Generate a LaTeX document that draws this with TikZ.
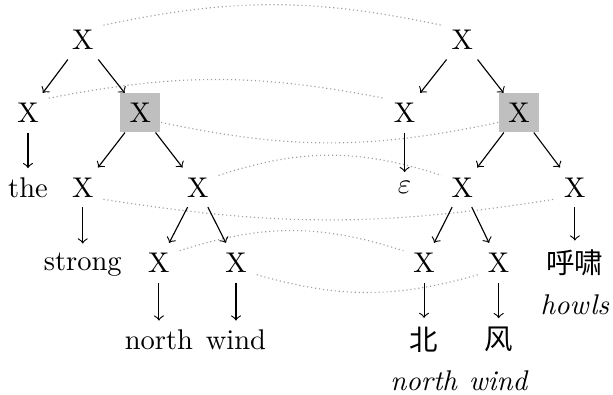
\documentclass[tikz,border=0pt]{standalone}
\usepackage{fontspec}
\newfontfamily\cjk{Noto Sans CJK SC}
\usetikzlibrary{positioning}

\begin{document}
\begin{tikzpicture}[
    sym/.style={inner sep=3.33pt},
    hl/.style={sym, fill=lightgray},
    word/.style={inner sep=3pt},
    arrow/.style={->, >=to},
    link/.style={gray!75, densely dotted, thin}
]
\useasboundingbox (0,0) rectangle (7.56,-4.87);

% English side
\node[sym] (lroot) at (1.02,-0.49) {X};
\node[sym] (la) at (0.345,-1.39) {X};
\node[hl] (lb) at (1.73,-1.39) {X};
\node[word] (lthe) at (0.345,-2.31) {the};
\node[sym] (lc) at (1.02,-2.31) {X};
\node[sym] (ld) at (2.44,-2.31) {X};
\node[word] (lstrong) at (1.02,-3.26) {strong};
\node[sym] (le) at (1.96,-3.24) {X};
\node[sym] (lf) at (2.91,-3.24) {X};
\node[word] (lnorth) at (1.96,-4.19) {north};
\node[word] (lwind) at (2.91,-4.19) {wind};

% Chinese side
\node[sym] (rroot) at (5.70,-0.49) {X};
\node[sym] (ra) at (4.99,-1.39) {X};
\node[hl] (rb) at (6.40,-1.39) {X};
\node[word] (reps) at (4.99,-2.31) {$\varepsilon$};
\node[sym] (rc) at (5.70,-2.31) {X};
\node[sym] (rd) at (7.09,-2.31) {X};
\node[sym] (re) at (5.23,-3.24) {X};
\node[sym] (rf) at (6.15,-3.24) {X};
\node[word] (rhuxiao) at (7.09,-3.24) {\cjk 呼啸};
\node[word] (rhowls) at (7.09,-3.76) {\textit{howls}};
\node[word] (rbei) at (5.23,-4.19) {\cjk 北};
\node[word] (rfeng) at (6.15,-4.19) {\cjk 风};
\node[word] (rnorth) at (5.23,-4.69) {\textit{north}};
\node[word] (rwind) at (6.15,-4.69) {\textit{wind}};

% alignment links
\draw[link] (lroot.35) to[bend left=12] (rroot.145);
\draw[link] (la.35) to[bend left=11] (ra.145);
\draw[link] (lb.-25) to[bend right=12] (rb.205);
\draw[link] (ld.30) to[bend left=18] (rc.150);
\draw[link] (lc.-30) to[bend right=9] (rd.210);
\draw[link] (le.30) to[bend left=18] (re.150);
\draw[link] (lf.-30) to[bend right=16] (rf.210);

% tree edges
\draw[arrow] (lroot) -- (la);
\draw[arrow] (lroot) -- (lb);
\draw[arrow] (la) -- (lthe);
\draw[arrow] (lb) -- (lc);
\draw[arrow] (lb) -- (ld);
\draw[arrow] (lc) -- (lstrong);
\draw[arrow] (ld) -- (le);
\draw[arrow] (ld) -- (lf);
\draw[arrow] (le) -- (lnorth);
\draw[arrow] (lf) -- (lwind);

\draw[arrow] (rroot) -- (ra);
\draw[arrow] (rroot) -- (rb);
\draw[arrow] (ra) -- (reps);
\draw[arrow] (rb) -- (rc);
\draw[arrow] (rb) -- (rd);
\draw[arrow] (rd) -- (rhuxiao);
\draw[arrow] (rc) -- (re);
\draw[arrow] (rc) -- (rf);
\draw[arrow] (re) -- (rbei);
\draw[arrow] (rf) -- (rfeng);
\end{tikzpicture}
\end{document}
